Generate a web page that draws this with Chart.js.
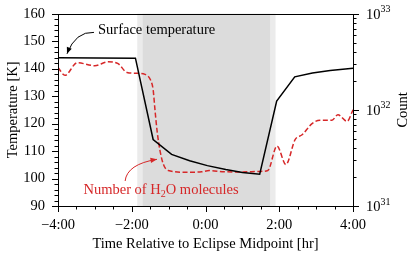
<!DOCTYPE html>
<html>
<head>
<meta charset="utf-8">
<script src="https://cdn.jsdelivr.net/npm/chart.js@4/dist/chart.umd.min.js"></script>
<style>
  html, body { margin: 0; padding: 0; background: #fff; }
  canvas { display: block; }
</style>
</head>
<body>
<canvas id="eclipseChart" width="415" height="256"></canvas>
<script>
// Surface temperature (left axis, K)
const surfaceHours = [-4.0, -1.9, -1.42, -0.92, -0.43, 0.05, 0.55, 1.0, 1.47, 1.93, 2.42, 2.9, 3.38, 4.0];
const surfaceTemp = [144.0, 143.8, 114.2, 108.8, 106.5, 104.7, 103.3, 102.2, 101.6, 128.2, 137.0, 138.4, 139.3, 140.1];

// Number of H2O molecules (right axis, log)
const h2oHours = [-4.0, -3.81, -3.48, -3.0, -2.64, -2.37, -2.13, -1.86, -1.64, -1.49, -1.42, -1.37, -1.31, -1.23, -1.14, -1.01,
                  -0.5, -0.1, 0.1, 0.5, 0.94, 1.48, 1.69, 1.94, 2.18, 2.43, 2.62, 2.89, 3.1, 3.43, 3.59, 3.84, 4.0];
const h2oCount = [2.75e32, 2.29e32, 3.09e32, 2.88e32, 3.16e32, 3.02e32, 2.45e32, 2.40e32, 2.34e32, 2.04e32, 1.62e32, 1.0e32, 5.9e31, 3.7e31, 2.7e31, 2.34e31,
                  2.24e31, 2.27e31, 2.34e31, 2.27e31, 2.26e31, 2.29e31, 2.34e31, 4.2e31, 2.7e31, 4.9e31, 5.5e31, 7.2e31, 7.8e31, 7.8e31, 8.9e31, 7.6e31, 1.0e32];

// Eclipse phases [start, end] in hours
const penumbraSpans = [[-1.85, -1.71], [1.75, 1.90]];
const umbraSpans = [[-1.71, 1.75]];

const xTicks = [-4, -2, 0, 2, 4];
const tempTicks = [90, 100, 110, 120, 130, 140, 150, 160];
const countTicks = [1e31, 1e32, 1e33];

const RED = '#d62728';
const SERIF = '"Liberation Serif", "DejaVu Serif", serif';
const FS = 14.5;

function fmtHour(h) {
    return (h < 0 ? '\u2212' : '') + Math.abs(h) + ':00';
}

// Draws shading, frame, ticks and annotations
const decorPlugin = {
    id: 'decor',
    beforeDatasetsDraw(chart) {
        const {ctx, chartArea: a, scales: {x}} = chart;
        ctx.save();
        ctx.fillStyle = '#ebebeb';
        penumbraSpans.forEach(s => {
            ctx.fillRect(x.getPixelForValue(s[0]), a.top, x.getPixelForValue(s[1]) - x.getPixelForValue(s[0]), a.bottom - a.top);
        });
        ctx.fillStyle = '#dcdcdc';
        umbraSpans.forEach(s => {
            ctx.fillRect(x.getPixelForValue(s[0]), a.top, x.getPixelForValue(s[1]) - x.getPixelForValue(s[0]), a.bottom - a.top);
        });
        ctx.restore();
    },
    afterDraw(chart) {
        const {ctx, chartArea: a, scales: {x, y, y1}} = chart;
        ctx.save();
        ctx.strokeStyle = '#000';
        ctx.lineWidth = 1;

        // frame
        ctx.strokeRect(Math.round(a.left) + 0.5, Math.round(a.top) + 0.5, Math.round(a.right - a.left), Math.round(a.bottom - a.top));

        ctx.beginPath();
        // x ticks
        for (let h = -4; h <= 4.001; h += 0.5) {
            const px = Math.round(x.getPixelForValue(h)) + 0.5;
            const len = (Math.abs(h % 2) < 0.01) ? 6 : 3.5;
            ctx.moveTo(px, a.bottom);
            ctx.lineTo(px, a.bottom + len);
        }
        // left y ticks
        for (let t = 90; t <= 160; t += 2) {
            const py = Math.round(y.getPixelForValue(t)) + 0.5;
            const len = (t % 10 === 0) ? 6 : 3.5;
            ctx.moveTo(a.left, py);
            ctx.lineTo(a.left - len, py);
        }
        // right log ticks
        for (let e = 31; e <= 33; e++) {
            for (let k = 1; k <= 9; k++) {
                const v = k * Math.pow(10, e);
                if (v > 1e33) break;
                const py = Math.round(y1.getPixelForValue(v)) + 0.5;
                const len = (k === 1) ? 6 : 3.5;
                ctx.moveTo(a.right, py);
                ctx.lineTo(a.right + len, py);
            }
        }
        ctx.stroke();

        // right tick labels with superscripts
        ctx.fillStyle = '#000';
        ctx.textBaseline = 'middle';
        ctx.textAlign = 'left';
        countTicks.forEach(v => {
            const py = y1.getPixelForValue(v);
            const lx = a.right + 13;
            ctx.font = FS + 'px ' + SERIF;
            ctx.fillText('10', lx, py + 1);
            const w = ctx.measureText('10').width;
            ctx.font = '10px ' + SERIF;
            ctx.fillText(String(Math.round(Math.log10(v))), lx + w, py - 4);
        });

        // right axis title, reading bottom to top
        ctx.save();
        ctx.translate(403, (a.top + a.bottom) / 2);
        ctx.rotate(-Math.PI / 2);
        ctx.textAlign = 'center';
        ctx.font = FS + 'px ' + SERIF;
        ctx.fillText('Count', 0, 0);
        ctx.restore();

        // arrow helper, points in data units
        function curvedArrow(p0, c, p1, color) {
            const P0 = [x.getPixelForValue(p0[0]), y.getPixelForValue(p0[1])];
            const C = [x.getPixelForValue(c[0]), y.getPixelForValue(c[1])];
            const P1 = [x.getPixelForValue(p1[0]), y.getPixelForValue(p1[1])];
            ctx.strokeStyle = color;
            ctx.fillStyle = color;
            ctx.lineWidth = 1;
            ctx.beginPath();
            ctx.moveTo(P0[0], P0[1]);
            ctx.quadraticCurveTo(C[0], C[1], P1[0], P1[1]);
            ctx.stroke();
            const ang = Math.atan2(P1[1] - C[1], P1[0] - C[0]);
            const L = 7, W = 0.38;
            ctx.beginPath();
            ctx.moveTo(P1[0], P1[1]);
            ctx.lineTo(P1[0] - L * Math.cos(ang - W), P1[1] - L * Math.sin(ang - W));
            ctx.lineTo(P1[0] - L * Math.cos(ang + W), P1[1] - L * Math.sin(ang + W));
            ctx.closePath();
            ctx.fill();
        }

        // Surface temperature label
        ctx.font = FS + 'px ' + SERIF;
        ctx.fillStyle = '#000';
        ctx.textAlign = 'left';
        ctx.textBaseline = 'middle';
        ctx.fillText('Surface temperature', x.getPixelForValue(-2.915), y.getPixelForValue(153.95));
        curvedArrow([-3.024, 153.2], [-3.525, 153.6], [-3.756, 145.4], '#000');

        // H2O label with subscript
        let tx = x.getPixelForValue(-3.31);
        const ty = y.getPixelForValue(95.6);
        ctx.fillStyle = RED;
        ctx.font = FS + 'px ' + SERIF;
        ctx.fillText('Number of H', tx, ty);
        tx += ctx.measureText('Number of H').width;
        ctx.font = '10px ' + SERIF;
        ctx.fillText('2', tx, ty + 4);
        tx += ctx.measureText('2').width;
        ctx.font = FS + 'px ' + SERIF;
        ctx.fillText('O molecules', tx, ty);
        curvedArrow([-2.18, 99.1], [-2.13, 105.2], [-1.315, 107.0], RED);

        ctx.restore();
    }
};

const ctx = document.getElementById('eclipseChart').getContext('2d');

const eclipseChart = new Chart(ctx, {
    type: 'line',
    data: {
        datasets: [{
            label: 'Surface temperature',
            data: surfaceHours.map((h, i) => ({x: h, y: surfaceTemp[i]})),
            yAxisID: 'y',
            borderColor: '#000',
            borderWidth: 1.5,
            pointRadius: 0,
            tension: 0
        }, {
            label: 'Number of H2O molecules',
            data: h2oHours.map((h, i) => ({x: h, y: h2oCount[i]})),
            yAxisID: 'y1',
            borderColor: RED,
            borderWidth: 1.5,
            borderDash: [5, 2.5],
            pointRadius: 0,
            cubicInterpolationMode: 'monotone'
        }]
    },
    options: {
        responsive: false,
        animation: false,
        devicePixelRatio: 1,
        layout: { padding: { top: 9, left: 0, right: 0, bottom: 0 } },
        scales: {
            x: {
                type: 'linear',
                min: -4,
                max: 4,
                afterBuildTicks: s => { s.ticks = xTicks.map(v => ({value: v})); },
                afterFit: s => { s.height = 50; },
                grid: { display: false },
                border: { display: false },
                ticks: {
                    autoSkip: false,
                    maxRotation: 0,
                    padding: 2.5,
                    color: '#000',
                    font: { family: SERIF, size: FS },
                    callback: v => fmtHour(v)
                },
                title: {
                    display: true,
                    text: 'Time Relative to Eclipse Midpoint [hr]',
                    color: '#000',
                    font: { family: SERIF, size: FS },
                    padding: { top: 2, bottom: 3 }
                }
            },
            y: {
                position: 'left',
                min: 90,
                max: 160,
                afterBuildTicks: s => { s.ticks = tempTicks.map(v => ({value: v})); },
                afterFit: s => { s.width = 58; },
                grid: { display: false },
                border: { display: false },
                ticks: {
                    padding: 5,
                    color: '#000',
                    font: { family: SERIF, size: FS }
                },
                title: {
                    display: true,
                    text: 'Temperature [K]',
                    color: '#000',
                    font: { family: SERIF, size: FS },
                    padding: { top: 4, bottom: 4 }
                }
            },
            y1: {
                type: 'logarithmic',
                position: 'right',
                min: 1e31,
                max: 1e33,
                afterBuildTicks: s => { s.ticks = countTicks.map(v => ({value: v})); },
                afterFit: s => { s.width = 62; },
                grid: { display: false },
                border: { display: false },
                ticks: {
                    color: '#000',
                    font: { family: SERIF, size: FS },
                    callback: () => ''
                }
            }
        },
        plugins: {
            legend: { display: false },
            tooltip: { enabled: false }
        }
    },
    plugins: [decorPlugin]
});
</script>
</body>
</html>
